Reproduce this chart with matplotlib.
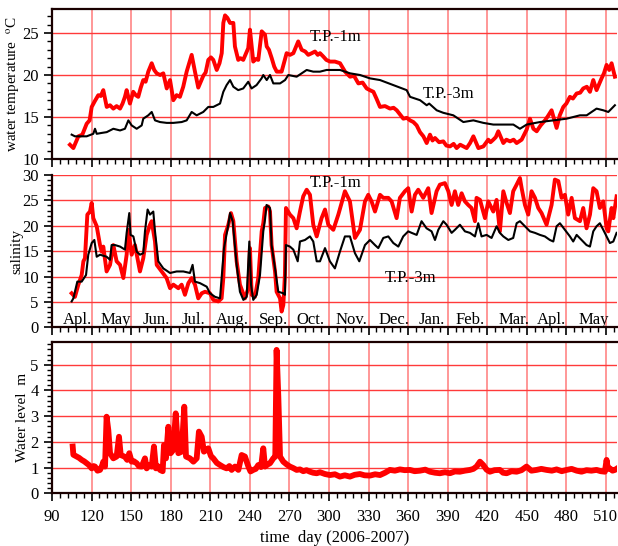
import matplotlib
matplotlib.use("Agg")
import matplotlib.pyplot as plt
from matplotlib.ticker import MultipleLocator

plt.rcParams['font.family'] = ['Liberation Serif', 'DejaVu Serif']
plt.rcParams['mathtext.fontset'] = 'stix'

# ---------------- water temperature (deg C) ----------------
temp1_day = [103.6, 106.2, 110.0, 113.0, 116.3, 118.5, 120.1, 122.5, 125.1, 127.0, 128.9, 131.5, 134.0,
             136.5, 139.0, 141.6, 143.5, 145.3, 146.6, 149.1, 151.6, 153.5, 155.4, 157.3, 159.2, 161.0,
             163.0, 165.6, 167.5, 169.4, 172.0, 174.4, 177.0, 179.5, 182.0, 184.5, 187.0, 189.5, 192.1,
             195.9, 198.4, 200.9, 204.7, 206.5, 208.5, 210.5, 212.3, 214.9, 217.0, 218.7, 219.9, 221.2,
             223.0, 225.0, 227.5, 228.7, 231.2, 233.0, 235.0, 238.8, 240.1, 242.6, 244.5, 246.4, 249.0,
             251.5, 252.8, 254.5, 256.6, 258.5, 260.4, 264.1, 267.9, 270.5, 273.0, 276.7, 279.3, 282.0,
             284.3, 287.0, 289.4, 291.5, 293.2, 295.7, 298.0, 300.8, 304.5, 308.4, 312.2, 316.0, 319.0,
             322.3, 325.5, 328.6, 331.0, 333.7, 336.0, 338.7, 342.5, 346.3, 349.0, 351.4, 356.4, 359.0,
             361.5, 364.0, 366.5, 369.0, 371.6, 374.1, 376.6, 378.5, 380.4, 383.5, 386.7, 389.0, 391.8,
             394.5, 396.8, 399.5, 401.9, 404.4, 407.0, 409.5, 413.3, 417.1, 420.8, 422.5, 424.6, 426.5,
             428.4, 432.2, 434.5, 437.3, 440.0, 442.3, 446.1, 449.9, 452.4, 455.0, 457.5, 460.5, 463.8,
             466.0, 468.8, 472.6, 475.0, 477.7, 480.0, 482.7, 485.0, 487.8, 490.5, 492.8, 495.5, 497.9,
             500.4, 502.9, 506.7, 508.5, 510.5, 512.5, 514.3, 516.8]
temp1_val = [11.7, 11.3, 12.7, 12.9, 14.2, 14.6, 16.2, 16.9, 17.6, 17.5, 18.2, 16.2, 16.4,
             16.0, 16.3, 16.0, 16.6, 17.4, 18.2, 16.6, 18.0, 17.6, 17.4, 18.5, 19.4, 19.2,
             20.4, 21.4, 20.6, 20.2, 20.0, 20.2, 18.4, 19.4, 17.0, 17.6, 17.4, 18.6, 20.4,
             22.4, 20.4, 18.5, 19.9, 20.3, 21.8, 22.1, 21.8, 20.6, 21.4, 22.6, 26.2, 27.1,
             26.8, 26.2, 26.2, 23.4, 21.8, 22.0, 21.8, 23.2, 25.4, 21.6, 21.9, 21.8, 25.2,
             24.8, 23.4, 23.0, 22.0, 21.0, 20.4, 20.4, 22.6, 22.4, 22.6, 24.0, 23.0, 22.8,
             22.4, 22.6, 22.8, 22.4, 22.6, 22.2, 21.8, 21.6, 21.6, 21.4, 20.4, 19.8, 19.9,
             19.0, 19.1, 18.4, 18.2, 18.0, 17.2, 16.2, 16.3, 16.0, 16.1, 15.8, 14.8, 14.9,
             14.6, 14.4, 14.0, 13.2, 12.7, 11.9, 12.9, 12.2, 12.5, 12.0, 12.1, 11.6, 11.5,
             11.8, 11.3, 11.7, 11.5, 11.3, 11.9, 12.7, 11.3, 11.5, 12.3, 12.0, 12.3, 12.6,
             13.3, 11.9, 12.3, 12.1, 12.3, 11.9, 12.3, 13.5, 14.8, 13.6, 13.3, 14.0, 14.6,
             15.1, 15.8, 13.7, 15.2, 16.2, 16.6, 17.4, 17.2, 17.8, 17.9, 18.4, 18.6, 18.0,
             19.4, 18.2, 19.6, 20.2, 21.2, 20.6, 21.4, 19.8]

temp3_day = [104.9, 107.4, 112.0, 116.3, 121.3, 122.6, 123.9, 127.5, 131.5, 136.5, 141.6, 145.3, 147.9,
             150.4, 154.2, 158.0, 159.2, 163.0, 165.6, 168.1, 171.9, 177.0, 182.0, 188.3, 192.1, 195.9,
             199.7, 204.7, 208.5, 212.3, 217.4, 219.9, 222.4, 225.0, 227.5, 231.2, 235.0, 238.8, 241.3,
             245.1, 248.9, 250.2, 252.8, 255.3, 257.8, 262.9, 266.7, 269.2, 275.5, 279.3, 283.1, 288.1,
             293.2, 298.2, 308.4, 316.0, 323.6, 331.1, 338.7, 348.8, 358.9, 361.5, 369.1, 374.1, 376.0,
             381.7, 386.7, 394.3, 401.9, 409.5, 417.1, 424.6, 434.7, 439.8, 444.8, 449.9, 460.0, 470.1,
             480.2, 490.3, 495.4, 502.9, 508.0, 511.8, 516.8]
temp3_val = [12.9, 12.7, 12.7, 12.7, 13.0, 13.6, 13.0, 13.1, 13.2, 13.6, 13.4, 13.6, 14.6,
             14.0, 13.6, 14.0, 14.8, 15.2, 15.6, 14.6, 14.4, 14.3, 14.3, 14.4, 14.6, 15.6,
             15.2, 15.6, 16.2, 16.2, 16.6, 18.0, 18.8, 19.4, 18.6, 18.2, 18.4, 19.2, 18.4,
             18.8, 19.6, 20.0, 19.4, 20.0, 19.0, 19.0, 19.4, 20.0, 19.8, 20.2, 20.6, 20.4,
             20.4, 20.6, 20.6, 20.2, 20.0, 19.6, 19.4, 18.8, 18.2, 17.4, 17.0, 16.4, 16.6,
             15.8, 15.5, 15.2, 14.4, 14.6, 14.3, 14.1, 14.1, 14.1, 13.6, 14.1, 14.4, 14.6,
             14.8, 15.2, 15.2, 16.0, 15.8, 15.6, 16.4]

# ---------------- salinity ----------------
sal1_day = [104.9, 107.4, 110.0, 112.5, 113.8, 115.0, 116.8, 118.8, 120.1, 121.3, 123.9, 126.4, 127.7,
            128.9, 131.4, 134.0, 136.5, 139.0, 141.6, 144.1, 146.6, 147.9, 150.4, 152.9, 156.7, 159.2,
            161.8, 164.3, 165.6, 168.1, 169.4, 173.1, 176.9, 179.5, 182.0, 185.8, 188.3, 190.8, 193.4,
            195.9, 198.4, 200.9, 203.5, 206.0, 209.8, 212.3, 216.1, 218.6, 219.9, 221.2, 223.7, 225.7,
            227.5, 230.0, 232.5, 236.3, 238.9, 240.1, 241.4, 243.9, 246.4, 249.0, 250.2, 251.5, 254.0,
            255.3, 256.5, 259.1, 260.3, 262.9, 264.1, 265.4, 266.6, 267.4, 270.4, 273.0, 275.5, 278.0,
            280.5, 283.1, 285.6, 288.1, 290.7, 294.4, 297.0, 299.5, 303.3, 307.1, 312.1, 315.9, 319.7,
            323.5, 327.3, 329.8, 332.3, 334.9, 338.7, 341.2, 345.0, 347.5, 351.3, 353.8, 357.6, 360.1,
            362.7, 365.2, 367.7, 371.5, 375.3, 377.8, 381.6, 384.1, 387.9, 390.5, 393.0, 395.5, 398.0,
            400.6, 403.1, 405.6, 408.1, 410.7, 411.9, 414.5, 418.3, 420.8, 424.6, 427.1, 429.6, 432.2,
            434.7, 437.2, 439.7, 442.3, 444.8, 446.1, 448.6, 451.1, 453.6, 456.2, 458.7, 461.2, 465.0,
            468.8, 471.3, 473.9, 476.4, 478.9, 481.4, 484.0, 486.5, 490.3, 492.8, 495.3, 497.9, 500.4,
            502.9, 505.4, 508.0, 510.5, 511.8, 514.3, 515.6, 518.1]
sal1_val = [6.7, 6.0, 8.4, 10.3, 13.0, 13.6, 22.2, 22.8, 24.5, 21.5, 19.9, 16.2, 14.9,
            15.9, 11.0, 12.3, 16.2, 13.0, 12.3, 9.7, 14.3, 19.2, 14.3, 16.2, 11.0, 13.6,
            18.2, 20.2, 20.9, 16.9, 12.3, 11.0, 9.7, 7.7, 8.4, 7.7, 8.4, 6.4, 8.7,
            9.7, 8.4, 5.7, 6.7, 7.0, 6.7, 5.4, 5.1, 5.7, 9.7, 18.2, 20.2, 22.5,
            20.9, 13.0, 8.4, 5.7, 7.7, 15.6, 6.4, 6.0, 9.7, 18.9, 20.5, 23.5, 23.8,
            22.8, 16.2, 11.0, 7.0, 5.7, 3.1, 4.4, 10.3, 23.5, 22.2, 21.5, 19.5, 22.8,
            25.8, 27.1, 26.1, 20.2, 17.9, 21.5, 23.2, 20.2, 19.2, 22.2, 26.8, 24.8, 17.6,
            19.2, 24.8, 26.1, 24.8, 22.8, 26.1, 25.5, 25.5, 24.8, 21.5, 25.5, 26.8, 27.4,
            22.8, 26.1, 27.1, 25.5, 27.4, 22.5, 26.8, 28.1, 28.4, 26.8, 24.1, 26.8, 24.1,
            26.4, 24.8, 24.1, 23.5, 20.9, 25.5, 25.1, 21.5, 24.8, 22.8, 25.1, 18.9, 26.8,
            24.5, 22.5, 26.8, 28.1, 29.4, 27.4, 24.1, 22.2, 26.8, 25.5, 23.5, 22.5, 20.2,
            24.1, 29.1, 28.8, 25.5, 26.1, 22.2, 25.5, 21.5, 20.9, 23.5, 19.5, 22.2, 27.4,
            26.8, 23.5, 24.8, 19.5, 18.9, 23.5, 21.5, 25.8]

sal3_day = [104.9, 106.2, 109.2, 112.5, 115.8, 117.5, 120.1, 122.1, 123.9, 126.4, 131.4, 134.0, 135.2,
            137.8, 141.6, 145.3, 146.6, 148.6, 149.6, 151.7, 154.2, 156.7, 159.2, 160.5, 162.5, 164.3,
            166.8, 168.1, 170.6, 174.4, 179.5, 184.5, 189.6, 194.6, 196.6, 198.4, 202.2, 207.3, 209.8,
            213.6, 217.4, 220.4, 223.7, 225.0, 227.0, 230.0, 232.5, 235.1, 237.6, 239.6, 240.9, 242.6,
            245.2, 247.7, 250.2, 251.5, 252.7, 255.3, 256.5, 259.1, 261.6, 265.4, 266.6, 267.4, 270.4,
            273.0, 276.3, 278.0, 281.8, 285.6, 288.1, 290.7, 293.2, 297.0, 300.7, 304.5, 308.3, 312.1,
            315.9, 319.7, 323.0, 327.3, 331.1, 334.9, 337.4, 341.2, 345.0, 348.8, 352.6, 356.3, 360.1,
            362.7, 366.5, 370.2, 374.0, 377.8, 380.4, 382.9, 386.7, 389.2, 393.0, 395.5, 399.3, 403.1,
            406.9, 410.7, 413.2, 415.7, 419.5, 423.3, 427.1, 429.6, 432.2, 436.0, 439.7, 442.3, 444.8,
            448.6, 452.4, 456.2, 460.0, 463.7, 467.5, 470.1, 472.6, 475.1, 478.9, 482.7, 485.2, 487.8,
            491.5, 495.3, 497.9, 500.4, 502.9, 505.4, 508.0, 510.5, 513.0, 515.6, 518.1]
sal3_val = [5.1, 5.7, 9.0, 9.0, 10.3, 14.3, 16.6, 17.2, 13.9, 14.3, 13.9, 13.3, 16.2,
            16.2, 15.9, 15.3, 18.6, 22.5, 18.2, 17.9, 14.9, 14.3, 14.6, 18.9, 23.2, 22.2,
            22.8, 18.9, 13.0, 11.6, 10.7, 11.0, 11.0, 10.7, 12.3, 9.0, 8.7, 8.0, 6.7,
            6.0, 5.7, 15.6, 20.2, 22.5, 20.9, 12.3, 7.0, 5.4, 6.0, 16.9, 8.4, 5.4,
            6.4, 10.3, 18.9, 21.2, 24.1, 23.5, 16.2, 11.6, 7.0, 6.7, 6.4, 16.2, 15.9,
            15.3, 13.0, 16.9, 17.2, 17.9, 16.9, 13.0, 13.0, 15.6, 13.0, 11.6, 14.9, 17.9,
            17.9, 14.6, 13.0, 16.2, 17.2, 16.2, 15.6, 17.6, 17.9, 16.6, 15.9, 17.9, 18.9,
            18.6, 18.2, 20.9, 19.5, 18.9, 17.2, 19.2, 20.9, 20.2, 18.6, 19.2, 20.2, 18.9,
            18.6, 17.9, 20.5, 17.9, 18.2, 17.6, 19.9, 18.6, 17.9, 17.2, 17.6, 20.5, 20.9,
            19.9, 18.9, 18.6, 18.2, 17.9, 17.2, 16.9, 19.9, 20.5, 19.2, 17.9, 16.9, 18.2,
            17.2, 16.2, 15.9, 18.9, 19.9, 20.5, 19.2, 17.9, 16.6, 16.9, 18.6]

# ---------------- water level (m) ----------------
wl_day = [105.7, 106.2, 108.7, 110.5, 112.5, 114.5, 116.3, 118.0, 120.1, 121.5, 122.6, 124.5, 126.4, 128.0,
          128.9, 130.2, 131.4, 132.7, 134.0, 136.5, 139.0, 140.8, 142.1, 145.3, 147.0, 148.6, 150.4, 152.0,
          154.2, 156.0, 158.0, 160.5, 161.8, 163.5, 165.6, 167.3, 168.8, 170.5, 171.9, 173.9, 174.9, 176.4,
          178.2, 180.0, 182.0, 183.8, 185.8, 188.3, 190.3, 191.6, 194.6, 197.2, 199.7, 201.4, 203.5, 205.2,
          208.5, 210.5, 212.3, 215.0, 217.4, 220.0, 222.4, 224.5, 226.2, 228.7, 231.3, 233.8, 236.3, 238.9,
          240.5, 242.6, 244.5, 246.4, 248.5, 250.2, 251.5, 253.5, 255.3, 257.8, 259.3, 260.3, 261.6, 262.9,
          265.4, 268.0, 270.4, 273.0, 275.5, 278.0, 280.5, 283.0, 285.6, 288.0, 290.7, 293.2, 297.0, 300.7,
          304.5, 308.3, 312.0, 315.9, 319.5, 323.5, 327.0, 331.1, 335.0, 338.7, 342.5, 346.2, 350.0, 353.8,
          357.5, 361.4, 365.0, 369.0, 373.0, 376.6, 380.5, 384.1, 388.0, 391.7, 395.5, 399.3, 403.0, 406.9,
          409.5, 411.9, 414.5, 417.0, 419.5, 422.0, 425.5, 429.6, 432.0, 434.7, 438.5, 442.3, 446.0, 449.8,
          453.5, 457.4, 461.0, 465.0, 469.0, 472.6, 476.5, 480.2, 484.0, 487.8, 491.5, 495.3, 499.0, 502.9,
          506.0, 509.2, 510.5, 511.5, 513.0, 515.0, 516.8, 518.0]
wl_val = [1.82, 1.50, 1.43, 1.38, 1.30, 1.24, 1.17, 1.10, 0.97, 1.06, 1.04, 0.88, 0.91, 1.08,
          1.23, 1.04, 2.98, 2.46, 1.56, 1.36, 1.43, 2.20, 1.49, 1.42, 1.30, 1.56, 1.23, 1.25,
          1.17, 1.05, 1.04, 1.36, 0.97, 1.10, 1.04, 1.82, 0.97, 1.05, 0.91, 0.86, 1.88, 1.36,
          2.59, 1.56, 1.69, 3.11, 1.56, 1.62, 3.37, 1.43, 1.36, 1.23, 1.36, 2.40, 2.20, 1.62,
          1.75, 1.45, 1.36, 1.18, 1.10, 1.02, 0.97, 1.06, 0.91, 1.04, 0.91, 1.49, 1.43, 1.04,
          0.85, 0.91, 0.95, 1.10, 1.02, 1.75, 1.04, 1.12, 1.17, 1.36, 1.43, 5.58, 3.76, 1.43,
          1.23, 1.12, 1.04, 0.98, 0.91, 0.93, 0.86, 0.90, 0.84, 0.80, 0.78, 0.82, 0.75, 0.71,
          0.74, 0.65, 0.70, 0.65, 0.72, 0.75, 0.70, 0.69, 0.74, 0.71, 0.80, 0.91, 0.88, 0.93,
          0.90, 0.91, 0.86, 0.88, 0.92, 0.84, 0.80, 0.78, 0.82, 0.78, 0.85, 0.84, 0.88, 0.91,
          0.95, 1.04, 1.23, 1.10, 0.92, 0.84, 0.90, 0.91, 0.80, 0.78, 0.86, 0.84, 0.90, 1.04,
          0.88, 0.91, 0.95, 0.91, 0.88, 0.93, 0.86, 0.91, 0.95, 0.88, 0.84, 0.90, 0.88, 0.91,
          0.86, 0.84, 1.30, 0.95, 0.97, 0.88, 0.91, 0.95]

month_names = ["Apl.", "May", "Jun.", "Jul.", "Aug.", "Sep.", "Oct.", "Nov.",
               "Dec.", "Jan.", "Feb.", "Mar.", "Apl.", "May"]
month_days = [109, 138, 169, 197, 227, 258, 286, 317, 349, 378, 407, 440, 469, 501]

# ---------------- figure ----------------
fig = plt.figure(figsize=(6.18, 5.46), dpi=100)
W, H = 618.0, 546.0
left, right = 52.0, 617.0


def make_axes(top_px, bot_px):
    return fig.add_axes([left / W, (H - bot_px) / H, (right - left) / W, (bot_px - top_px) / H])


def set_ylabel_at(ax, text, center_px, size=11):
    # place a rotated y label with its centre at a given pixel column
    ax.set_ylabel(text, fontsize=size)
    ax.yaxis.label.set_va('center')
    ax.yaxis.set_label_coords((center_px - left) / (right - left), 0.5)


ax1 = make_axes(9.0, 159.0)
ax2 = make_axes(175.0, 327.3)
ax3 = make_axes(342.3, 493.3)

RED = '#ff0000'
HGRID = '#ff3a3a'
VGRID = '#ff7a7a'

for ax in (ax1, ax2, ax3):
    ax.set_xlim(90, 518.4)
    ax.xaxis.set_major_locator(MultipleLocator(30))
    ax.xaxis.set_minor_locator(MultipleLocator(6))
    ax.tick_params(which='major', direction='out', length=6, width=1.2, labelsize=12, colors='black')
    ax.tick_params(which='minor', direction='out', length=3.5, width=1.0)
    ax.tick_params(axis='x', which='both', top=False, bottom=True)
    ax.tick_params(axis='x', which='major', pad=5)
    ax.tick_params(axis='y', which='both', right=False, left=True)
    ax.spines['right'].set_visible(False)
    for s in ('left', 'bottom', 'top'):
        ax.spines[s].set_linewidth(1.6)
        ax.spines[s].set_color('#1a0000')
    ax.set_axisbelow(True)
    ax.xaxis.grid(True, color=VGRID, lw=1.1)
    ax.yaxis.grid(True, color=HGRID, lw=1.0)

# temperature panel
ax1.plot(temp1_day, temp1_val, color=RED, lw=2.8, solid_joinstyle='round')
ax1.plot(temp3_day, temp3_val, color='black', lw=1.5)
ax1.set_ylim(10, 27.86)
ax1.yaxis.set_major_locator(MultipleLocator(5))
ax1.yaxis.set_minor_locator(MultipleLocator(1))
ax1.tick_params(axis='x', labelbottom=False)
set_ylabel_at(ax1, "water temperature  $^{\\rm o}$C", 13)
ax1.text(285.6, 24.55, "T.P.-1m", fontsize=12, va='center', ha='left')
ax1.text(371.3, 17.7, "T.P.-3m", fontsize=12, va='center', ha='left')

# salinity panel
ax2.plot(sal1_day, sal1_val, color=RED, lw=2.8, solid_joinstyle='round')
ax2.plot(sal3_day, sal3_val, color='black', lw=1.5)
ax2.set_ylim(0, 30)
ax2.spines['top'].set_visible(False)
ax2.yaxis.set_major_locator(MultipleLocator(5))
ax2.yaxis.set_minor_locator(MultipleLocator(1))
ax2.tick_params(axis='x', labelbottom=False)
set_ylabel_at(ax2, "salinity", 17)
ax2.text(285.6, 28.4, "T.P.-1m", fontsize=12, va='center', ha='left')
ax2.text(342.5, 9.7, "T.P.-3m", fontsize=12, va='center', ha='left')
for name, d in zip(month_names, month_days):
    ax2.text(d, 1.35, name, fontsize=12, ha='center', va='center')

# water level panel
ax3.plot(wl_day, wl_val, color=RED, lw=4.2, solid_joinstyle='round')
ax3.set_ylim(0, 5.875)
ax3.yaxis.set_major_locator(MultipleLocator(1))
ax3.yaxis.set_minor_locator(MultipleLocator(0.2))
set_ylabel_at(ax3, "Water level  m", 23)
ax3.set_xlabel("time  day (2006-2007)", fontsize=12, labelpad=4)

fig.savefig("out.png", dpi=100)
